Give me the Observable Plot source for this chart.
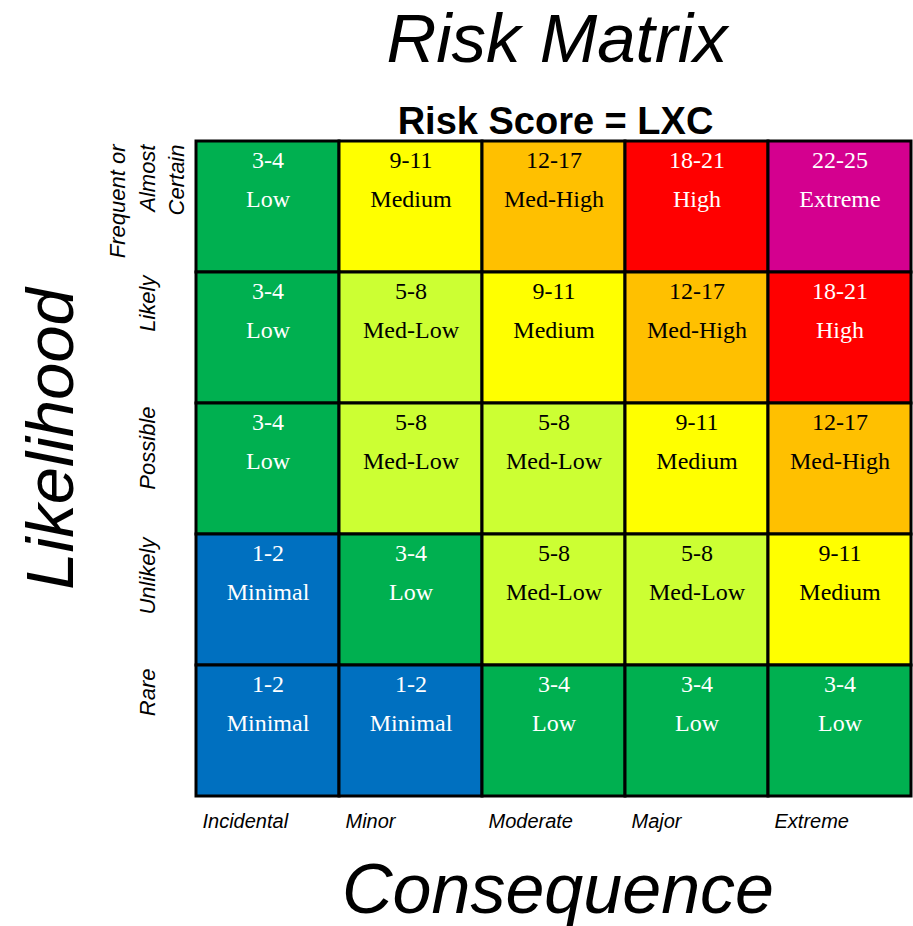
<!DOCTYPE html>
<html>
<head>
<meta charset="utf-8">
<script src="https://cdn.jsdelivr.net/npm/d3@7"></script>
<script src="https://cdn.jsdelivr.net/npm/@observablehq/plot@0.6"></script>
<style>
  html, body { margin: 0; padding: 0; background: #ffffff; }
  svg { display: block; }
</style>
</head>
<body>
<div id="chart"></div>
<script>
// ---- data ----
const consequence = ["Incidental", "Minor", "Moderate", "Major", "Extreme"];
const likelihood = ["Frequent or Almost Certain", "Likely", "Possible", "Unlikely", "Rare"];
const levels = ["Minimal", "Low", "Med-Low", "Medium", "Med-High", "High", "Extreme"];
const scoreRanges = ["1-2", "3-4", "5-8", "9-11", "12-17", "18-21", "22-25"];
const rowFrequent = ["Low", "Medium", "Med-High", "High", "Extreme"];
const rowLikely = ["Low", "Med-Low", "Medium", "Med-High", "High"];
const rowPossible = ["Low", "Med-Low", "Med-Low", "Medium", "Med-High"];
const rowUnlikely = ["Minimal", "Low", "Med-Low", "Med-Low", "Medium"];
const rowRare = ["Minimal", "Minimal", "Low", "Low", "Low"];
const ratings = [rowFrequent, rowLikely, rowPossible, rowUnlikely, rowRare];

// ---- palette ----
const levelColors = ["#0070C0", "#00B050", "#CCFF33", "#FFFF00", "#FFC000", "#FF0000", "#D4008F"];
const darkTextLevels = ["Med-Low", "Medium", "Med-High"];

const cells = likelihood.flatMap((l, i) =>
  consequence.map((c, j) => {
    const level = ratings[i][j];
    return {likelihood: l, consequence: c, level, range: scoreRanges[levels.indexOf(level)]};
  })
);

const sans = "'Liberation Sans', Arial, sans-serif";
const serif = "'Liberation Serif', 'Times New Roman', serif";

const cellText = (field, dy, dark) => Plot.text(cells, {
  filter: d => darkTextLevels.includes(d.level) === dark,
  x: "consequence", y: "likelihood", text: field,
  lineAnchor: "bottom", dy,
  fill: dark ? "black" : "white",
  fontFamily: serif, fontSize: 24
});

const chart = Plot.plot({
  width: 913,
  height: 926,
  marginTop: 141,
  marginLeft: 195,
  marginRight: 1,
  marginBottom: 130,
  style: {fontFamily: sans, background: "white"},
  x: {domain: consequence, axis: null, padding: 0},
  y: {domain: likelihood, axis: null, padding: 0},
  color: {domain: levels, range: levelColors},
  marks: [
    Plot.cell(cells, {x: "consequence", y: "likelihood", fill: "level", stroke: "black", strokeWidth: 3}),
    cellText("range", -39, false),
    cellText("range", -39, true),
    cellText("level", 0, false),
    cellText("level", 0, true),
    // x category labels
    Plot.text(consequence, {
      x: d => d, text: d => d, frameAnchor: "bottom",
      textAnchor: "start", lineAnchor: "bottom", dx: -65.5, dy: 31,
      fontSize: 20, fontStyle: "italic", fill: "black"
    }),
    // y category labels
    Plot.text(likelihood, {
      y: d => d, text: d => d.replace(" Almost ", "\nAlmost\n"),
      frameAnchor: "left", rotate: -90,
      textAnchor: "end", lineAnchor: "middle", lineHeight: 1.34,
      dx: -50, dy: -62.5,
      fontSize: 22, fontStyle: "italic", fill: "black"
    }),
    // titles
    Plot.text(["Risk Matrix"], {
      text: d => d, frameAnchor: "top", lineAnchor: "bottom", dx: 3, dy: -80,
      fontSize: 69, fontStyle: "italic", fill: "black"
    }),
    Plot.text(["Risk Score = LXC"], {
      text: d => d, frameAnchor: "top", lineAnchor: "bottom", dx: 1.5, dy: -8,
      fontSize: 38, fontWeight: "bold", fill: "black"
    }),
    Plot.text(["Consequence"], {
      text: d => d, frameAnchor: "bottom", lineAnchor: "bottom", dx: 4, dy: 116,
      fontSize: 70, fontStyle: "italic", fill: "black"
    }),
    Plot.text(["Likelihood"], {
      text: d => d, frameAnchor: "left", rotate: -90, textAnchor: "middle",
      lineAnchor: "bottom", dx: -123, dy: -30,
      fontSize: 67, fontStyle: "italic", fill: "black"
    })
  ]
});

document.getElementById("chart").appendChild(chart);
</script>
</body>
</html>
